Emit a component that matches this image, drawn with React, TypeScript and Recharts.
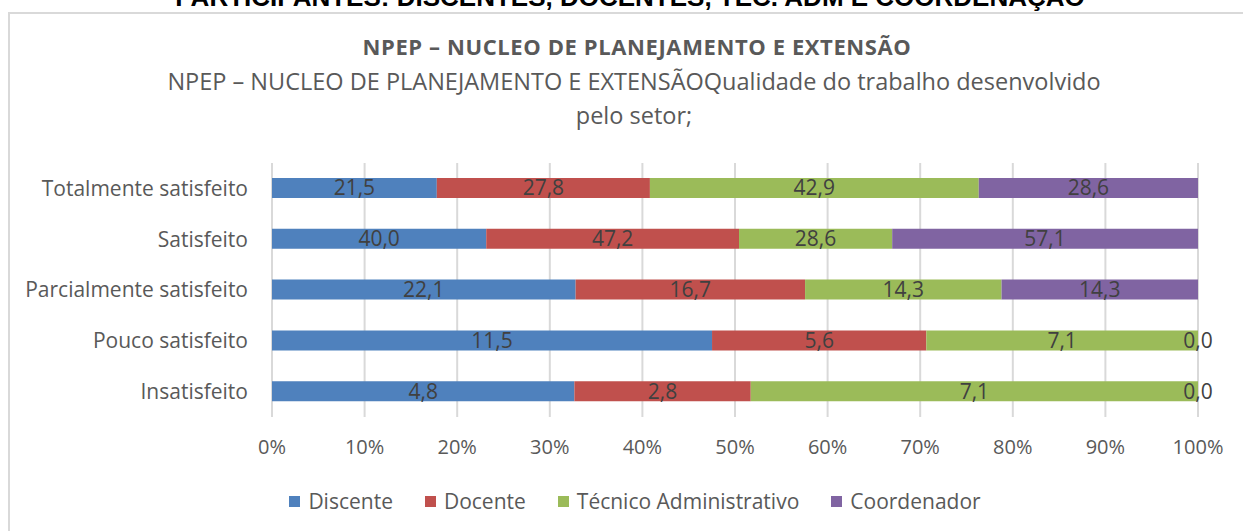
import React from 'react';
import { BarChart, Bar, XAxis, YAxis, CartesianGrid, Legend, LabelList } from 'recharts';

const categories = ['Totalmente satisfeito', 'Satisfeito', 'Parcialmente satisfeito', 'Pouco satisfeito', 'Insatisfeito'];
const discente = [21.5, 40.0, 22.1, 11.5, 4.8];
const docente = [27.8, 47.2, 16.7, 5.6, 2.8];
const tecnico = [42.9, 28.6, 14.3, 7.1, 7.1];
const coordenador = [28.6, 57.1, 14.3, 0.0, 0.0];
const xTicks = [0, 0.1, 0.2, 0.3, 0.4, 0.5, 0.6, 0.7, 0.8, 0.9, 1];

const seriesDefs = [
  { key: 'discente', name: 'Discente', color: '#4F81BD' },
  { key: 'docente', name: 'Docente', color: '#C0504D' },
  { key: 'tecnico', name: 'Técnico Administrativo', color: '#9BBB59' },
  { key: 'coordenador', name: 'Coordenador', color: '#8064A2' },
];

const data = categories.map((c, i) => ({
  cat: c,
  discente: discente[i],
  docente: docente[i],
  tecnico: tecnico[i],
  coordenador: coordenador[i],
}));

const FONT = '"Open Sans", "Noto Sans", sans-serif';
const fmt = (v: any) => (typeof v === 'number' ? v.toFixed(1).replace('.', ',') : v);

const LegendContent = () => (
  <div style={{ display: 'flex', justifyContent: 'center', alignItems: 'center', height: 30, marginLeft: 72, fontFamily: FONT, fontSize: 21, color: '#595959' }}>
    {seriesDefs.map((s) => (
      <div key={s.key} style={{ display: 'flex', alignItems: 'center', margin: '0 16px' }}>
        <div style={{ width: 11, height: 11, background: s.color, marginRight: 8 }} />
        <span>{s.name}</span>
      </div>
    ))}
  </div>
);

// Draws the Coordenador value at the right end of the stack when its segment has zero width
const ZeroEndLabel = (props: any) => {
  const { x, y, width, height, value } = props;
  if (value !== 0) return null;
  return (
    <text x={Number(x) + Number(width)} y={Number(y) + Number(height) / 2} dy="0.36em" textAnchor="middle" fill="#404040" fontSize={21}>
      {fmt(value)}
    </text>
  );
};

export default function App() {
  return (
    <div style={{ position: 'absolute', left: 0, top: 0, width: 1243, height: 531, background: '#fff', overflow: 'hidden', fontFamily: FONT }}>
      <div style={{ position: 'absolute', left: 0, width: 1260, top: -16, lineHeight: '26px', textAlign: 'center', fontFamily: '"Liberation Sans", Arial, sans-serif', fontWeight: 'bold', fontSize: 26, color: '#000', whiteSpace: 'nowrap' }}>
        PARTICIPANTES: DISCENTES, DOCENTES, TEC. ADM E COORDENAÇÃO
      </div>
      <div style={{ position: 'absolute', left: 8, top: 12, width: 1240, height: 530, borderLeft: '2px solid #d9d9d9', borderTop: '2px solid #d9d9d9', boxSizing: 'border-box' }} />
      <div style={{ position: 'absolute', left: 0, width: 1274, top: 31, textAlign: 'center', fontWeight: 'bold', fontSize: 22, letterSpacing: 0.6, color: '#595959', whiteSpace: 'nowrap' }}>
        NPEP – NUCLEO DE PLANEJAMENTO E EXTENSÃO
      </div>
      <div style={{ position: 'absolute', left: 0, width: 1268, top: 65, textAlign: 'center', fontSize: 23.5, color: '#595959', whiteSpace: 'nowrap' }}>
        NPEP – NUCLEO DE PLANEJAMENTO E EXTENSÃOQualidade do trabalho desenvolvido
      </div>
      <div style={{ position: 'absolute', left: 0, width: 1268, top: 99, textAlign: 'center', fontSize: 23.5, color: '#595959', whiteSpace: 'nowrap' }}>
        pelo setor;
      </div>
      <div style={{ position: 'absolute', left: 0, top: 0 }}>
        <BarChart
          width={1243}
          height={531}
          data={data}
          layout="vertical"
          stackOffset="expand"
          barSize={20}
          margin={{ top: 163, right: 45, bottom: 15, left: 0 }}
        >
          <CartesianGrid horizontal={false} stroke="#d9d9d9" strokeWidth={2} />
          <XAxis
            type="number"
            domain={[0, 1]}
            ticks={xTicks}
            tickFormatter={(v: number) => `${Math.round(v * 100)}%`}
            axisLine={false}
            tickLine={false}
            tickSize={0}
            tickMargin={23}
            height={69}
            interval={0}
            tick={{ fill: '#595959', fontSize: 20 }}
          />
          <YAxis
            type="category"
            dataKey="cat"
            width={272}
            axisLine={false}
            tickLine={false}
            tickSize={0}
            tickMargin={24}
            interval={0}
            tick={{ fill: '#595959', fontSize: 21 }}
          />
          <Legend verticalAlign="bottom" height={30} content={<LegendContent />} />
          {seriesDefs.map((s) => (
            <Bar key={s.key} dataKey={s.key} name={s.name} stackId="a" fill={s.color} isAnimationActive={false}>
              <LabelList dataKey={s.key} position="center" formatter={fmt} fill="#404040" fontSize={21} />
              {s.key === 'tecnico' ? <LabelList dataKey="coordenador" content={<ZeroEndLabel />} /> : null}
            </Bar>
          ))}
        </BarChart>
      </div>
    </div>
  );
}
